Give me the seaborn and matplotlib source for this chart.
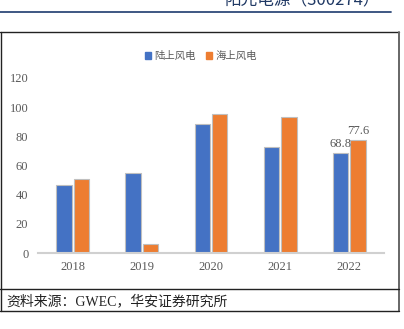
import matplotlib
matplotlib.use("Agg")
import matplotlib.pyplot as plt
import seaborn as sns
import pandas as pd
from matplotlib.lines import Line2D
from matplotlib.patches import Rectangle

years = ["2018", "2019", "2020", "2021", "2022"]
onshore = [46.3, 54.6, 88.5, 72.5, 68.8]
offshore = [50.7, 6.2, 95.3, 93.5, 77.6]
series = ["陆上风电", "海上风电"]
colors = ["#4472C4", "#ED7D31"]
yticks = [0, 20, 40, 60, 80, 100, 120]

df = pd.DataFrame({
    "year": years * 2,
    "value": onshore + offshore,
    "series": [series[0]] * len(years) + [series[1]] * len(years),
})

sns.set_theme(style="white")
plt.rcParams["font.family"] = ["Liberation Serif", "Noto Sans CJK SC", "DejaVu Sans"]

fig = plt.figure(figsize=(4.04, 3.29), dpi=100)
ax = fig.add_axes([38/404, 1-253/329, (384-38)/404, (253-78)/329])

sns.barplot(data=df, x="year", y="value", hue="series", palette=colors,
            saturation=1, width=0.5, gap=0.11, edgecolor="#BFBFBF", linewidth=0.8,
            ax=ax, legend=False)

ax.set_xlim(-0.5, 4.5)
ax.set_ylim(0, 120)
ax.set_yticks(yticks)
ax.set_yticklabels([str(t) for t in yticks])
ax.set_xlabel("")
ax.set_ylabel("")
for s in ["top", "right", "left"]:
    ax.spines[s].set_visible(False)
ax.spines["bottom"].set_color("#D0D0D0")
ax.spines["bottom"].set_linewidth(1.5)
ax.tick_params(axis="both", length=0, colors="#595959", labelsize=9)
ax.tick_params(axis="x", pad=6)
ax.tick_params(axis="y", pad=7)

# data labels for last year only
for cont, vals in zip(ax.containers, [onshore, offshore]):
    labels = [""] * (len(vals) - 1) + [f"{vals[-1]:.1f}"]
    ax.bar_label(cont, labels=labels, padding=2, fontsize=9, color="#595959")

# legend
handles = [Rectangle((0, 0), 1, 1, color=c) for c in colors]
fig.legend(handles, series, loc="center", bbox_to_anchor=(201/404, 1-56/329),
           ncol=2, frameon=False, handlelength=0.6, handleheight=0.6,
           handletextpad=0.3, columnspacing=1.0, labelcolor="#595959",
           prop={"family": ["Noto Sans CJK SC"], "size": 7.5})

# header
fig.text(380/404, 1.0, "阳光电源（300274）", ha="right", va="center",
         fontsize=12, color="#1F3864", family=["Noto Sans CJK SC"])
fig.add_artist(Line2D([0, 391/404], [1-12/329, 1-12/329], color="#2F4A7A", lw=1.3))

# frame
fig.add_artist(Line2D([0, 399/404], [1-32/329, 1-32/329], color="#222222", lw=1.0))
fig.add_artist(Line2D([399/404, 399/404], [1-32/329, 1-311/329], color="#666666", lw=1.4))
fig.add_artist(Line2D([0, 399/404], [1-311/329, 1-311/329], color="#222222", lw=1.0))
fig.add_artist(Line2D([0, 399/404], [1-289/329, 1-289/329], color="#222222", lw=1.0))
fig.add_artist(Line2D([0.5/404, 0.5/404], [1-32/329, 1-311/329], color="#222222", lw=1.0))

fig.text(6/404, 1-301/329, "资料来源：GWEC，华安证券研究所", ha="left", va="center",
         fontsize=10, color="#222222", family=["Liberation Serif", "Noto Sans CJK SC"])

fig.savefig("out.png", dpi=100)
